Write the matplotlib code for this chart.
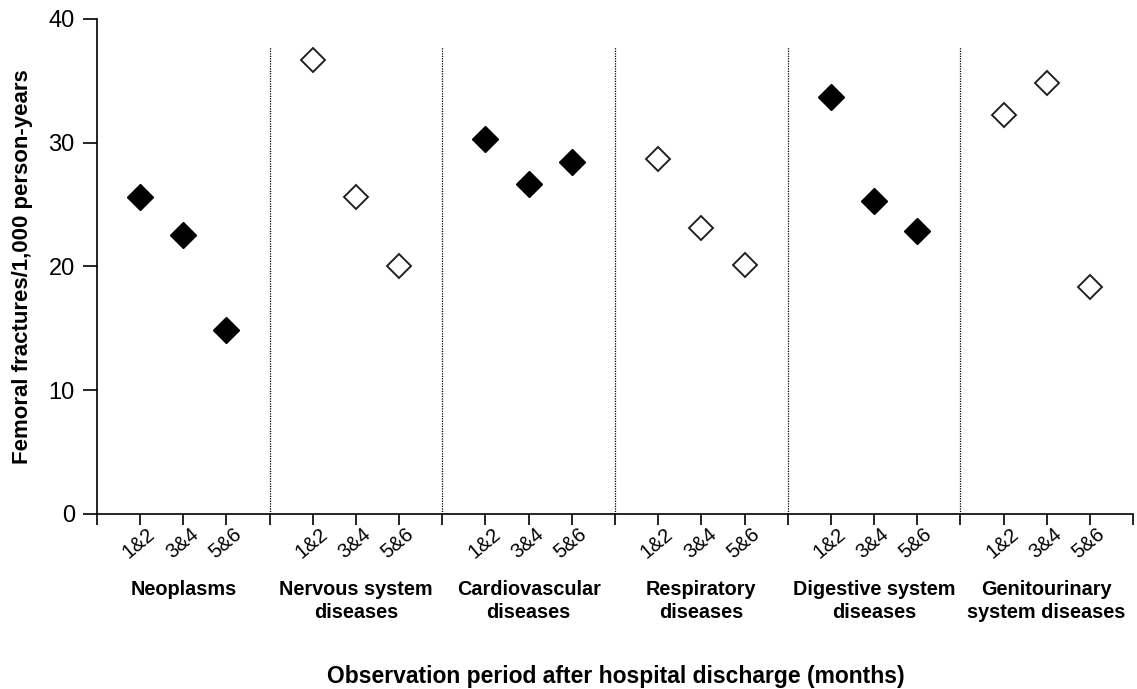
import numpy as np
import matplotlib.pyplot as plt
import matplotlib.transforms as mtransforms

plt.rcParams['font.family'] = ['Liberation Sans', 'DejaVu Sans']

# データ
groups = ['Neoplasms', 'Nervous system\ndiseases', 'Cardiovascular\ndiseases',
          'Respiratory\ndiseases', 'Digestive system\ndiseases',
          'Genitourinary\nsystem diseases']
periods = ['1&2', '3&4', '5&6']
rates = [
    [25.6, 22.5, 14.9],
    [36.7, 25.6, 20.0],
    [30.3, 26.7, 28.4],
    [28.7, 23.1, 20.1],
    [33.7, 25.3, 22.9],
    [32.2, 34.8, 18.3],
]
filled = [True, False, True, False, True, False]


def main():
    fig = plt.figure(figsize=(11.37, 6.89), dpi=100)
    ax = fig.add_axes([0.0853, 0.254, 0.9112, 0.7186])

    n = len(groups)
    for i in range(n):
        xs = [4 * i + 1, 4 * i + 2, 4 * i + 3]
        if filled[i]:
            ax.plot(xs, rates[i], 'D', color='black', markersize=13,
                    linestyle='none', clip_on=False)
        else:
            ax.plot(xs, rates[i], 'D', markerfacecolor='white',
                    markeredgecolor='#222222', markeredgewidth=1.4,
                    markersize=12, linestyle='none', clip_on=False)

    # 区切り線
    for i in range(1, n):
        ax.vlines(4 * i, 0, 37.7, colors='black', linestyles=(0, (1, 1)),
                  linewidth=0.9)

    ax.set_xlim(0, 4 * n)
    ax.set_ylim(0, 40)
    ax.set_yticks([0, 10, 20, 30, 40])
    ax.tick_params(axis='y', labelsize=17, length=10, width=1.2, direction='out', pad=6)

    major = [4 * i for i in range(n + 1)]
    minor = [4 * i + k for i in range(n) for k in (1, 2, 3)]
    ax.set_xticks(major)
    ax.set_xticklabels([])
    ax.set_xticks(minor, minor=True)
    ax.set_xticklabels(periods * n, minor=True, rotation=40,
                       rotation_mode='anchor', ha='right', va='center',
                       fontsize=14.5)
    ax.tick_params(axis='x', which='both', length=8, width=1.2, direction='out')
    ax.tick_params(axis='x', which='minor', pad=4.5)
    shift = mtransforms.ScaledTranslation(9 / 72, 0, fig.dpi_scale_trans)
    for lab in ax.get_xticklabels(minor=True):
        lab.set_transform(lab.get_transform() + shift)

    for s in ('top', 'right'):
        ax.spines[s].set_visible(False)
    ax.spines['left'].set_linewidth(1.2)
    ax.spines['bottom'].set_linewidth(1.2)

    trans = mtransforms.blended_transform_factory(ax.transData, ax.transAxes)
    for i, g in enumerate(groups):
        ax.text(4 * i + 2, -0.133, g, transform=trans, ha='center', va='top',
                fontsize=14.3, fontweight='bold', linespacing=1.3)

    ax.set_ylabel('Femoral fractures/1,000 person-years', fontsize=16,
                  fontweight='bold')
    ax.yaxis.set_label_coords(-0.062, 0.5)
    fig.text(0.5417, 0.001, 'Observation period after hospital discharge (months)',
             ha='center', va='bottom', fontsize=16.5, fontweight='bold')

    fig.savefig('out.png', dpi=100)


if __name__ == '__main__':
    main()
